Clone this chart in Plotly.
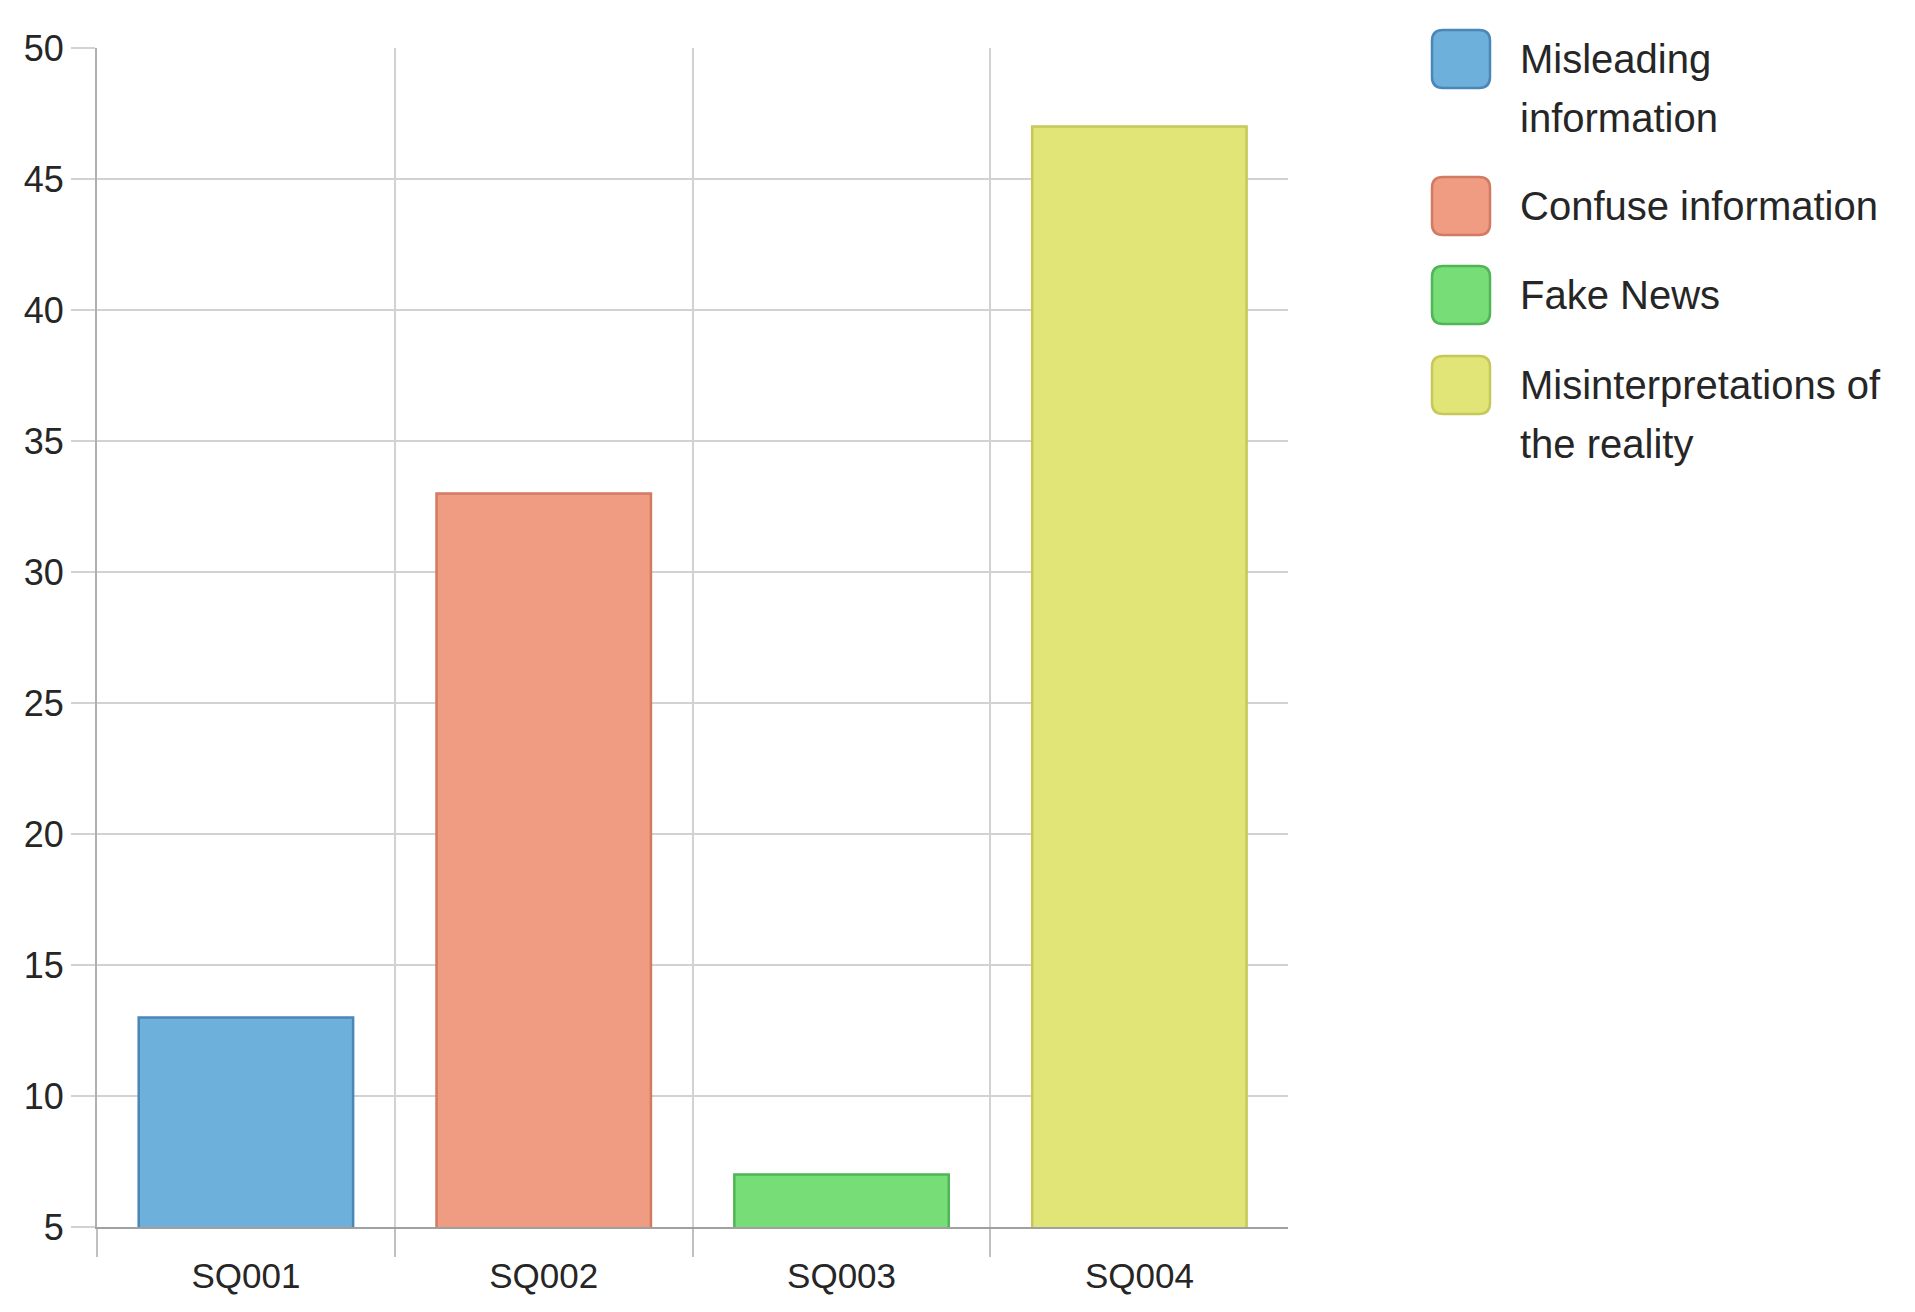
import plotly.graph_objects as go

# ---- data ----
categories = ["SQ001", "SQ002", "SQ003", "SQ004"]
values = [13, 33, 7, 47]
series_names = ["Misleading information", "Confuse information", "Fake News",
                "Misinterpretations of the reality"]
legend_lines = [["Misleading", "information"], ["Confuse information"], ["Fake News"],
                ["Misinterpretations of", "the reality"]]
fill_colors = ["#6EB0DC", "#EF9C82", "#77DE77", "#E1E476"]
line_colors = ["#4A86B6", "#D27A62", "#50B554", "#C6C95A"]
y_ticks = [5, 10, 15, 20, 25, 30, 35, 40, 45, 50]

# ---- layout geometry (pixels) ----
W, H = 1915, 1312
L, R, T, B = 97, 1288, 48, 1227

def px_x(px):
    return (px - L) / (R - L)

def px_y(py):
    return (B - py) / (B - T)

FONT = "Liberation Sans, Arial, Helvetica, sans-serif"
TEXT = "#262626"
GRID = "#d2d2d2"

fig = go.Figure()
for cat, val, name, fc, lc in zip(categories, values, series_names, fill_colors, line_colors):
    fig.add_trace(go.Bar(
        x=[cat], y=[val], name=name, width=0.72,
        marker=dict(color=fc, line=dict(color=lc, width=2.5)),
        showlegend=False,
    ))

# ---- custom legend (large rounded swatches) ----
sq = 58
rad = 11
sq_x0 = 1432
entry_centers = [59, 206, 295, 385]
line_gap = 59
shapes = []
annotations = []

def rounded_path(x0, y0, x1, y1, r):
    X = px_x
    Y = px_y
    return (
        f"M {X(x0 + r)},{Y(y0)} L {X(x1 - r)},{Y(y0)} "
        f"Q {X(x1)},{Y(y0)} {X(x1)},{Y(y0 + r)} L {X(x1)},{Y(y1 - r)} "
        f"Q {X(x1)},{Y(y1)} {X(x1 - r)},{Y(y1)} L {X(x0 + r)},{Y(y1)} "
        f"Q {X(x0)},{Y(y1)} {X(x0)},{Y(y1 - r)} L {X(x0)},{Y(y0 + r)} "
        f"Q {X(x0)},{Y(y0)} {X(x0 + r)},{Y(y0)} Z"
    )

for lines, cy, fc, lc in zip(legend_lines, entry_centers, fill_colors, line_colors):
    shapes.append(dict(
        type="path", xref="paper", yref="paper",
        path=rounded_path(sq_x0, cy - sq / 2, sq_x0 + sq, cy + sq / 2, rad),
        fillcolor=fc, line=dict(color=lc, width=2.5), layer="above",
    ))
    for i, ln in enumerate(lines):
        annotations.append(dict(
            xref="paper", yref="paper", x=px_x(1518), y=px_y(cy + i * line_gap),
            xanchor="left", yanchor="middle", text=ln, showarrow=False,
            font=dict(family=FONT, size=40, color=TEXT),
        ))

fig.update_layout(
    width=W, height=H,
    margin=dict(l=L, r=W - R, t=T, b=H - B, pad=0),
    paper_bgcolor="white", plot_bgcolor="white",
    barmode="overlay",
    showlegend=False,
    shapes=shapes,
    annotations=annotations,
    font=dict(family=FONT, color=TEXT),
    xaxis=dict(
        type="category", categoryorder="array", categoryarray=categories,
        range=[-0.5, 3.499],
        tickson="boundaries", ticks="outside", ticklen=28, tickwidth=1.5, tickcolor="#c0c0c0",
        showgrid=True, gridcolor=GRID, gridwidth=1.5,
        showline=True, linecolor="#a0a0a0", linewidth=2,
        tickfont=dict(family=FONT, size=35, color=TEXT),
        ticklabelstandoff=17,
        zeroline=False, fixedrange=True,
    ),
    yaxis=dict(
        range=[5, 50], tickmode="array", tickvals=y_ticks,
        ticks="outside", ticklen=24, tickwidth=2, tickcolor=GRID,
        showgrid=True, gridcolor=GRID, gridwidth=2,
        showline=True, linecolor="#b0b0b0", linewidth=2,
        tickfont=dict(family=FONT, size=36, color=TEXT),
        zeroline=False, fixedrange=True,
    ),
)

fig.write_html("out.html", config={"displayModeBar": False, "responsive": False},
               post_script="document.body.style.margin='0';")
